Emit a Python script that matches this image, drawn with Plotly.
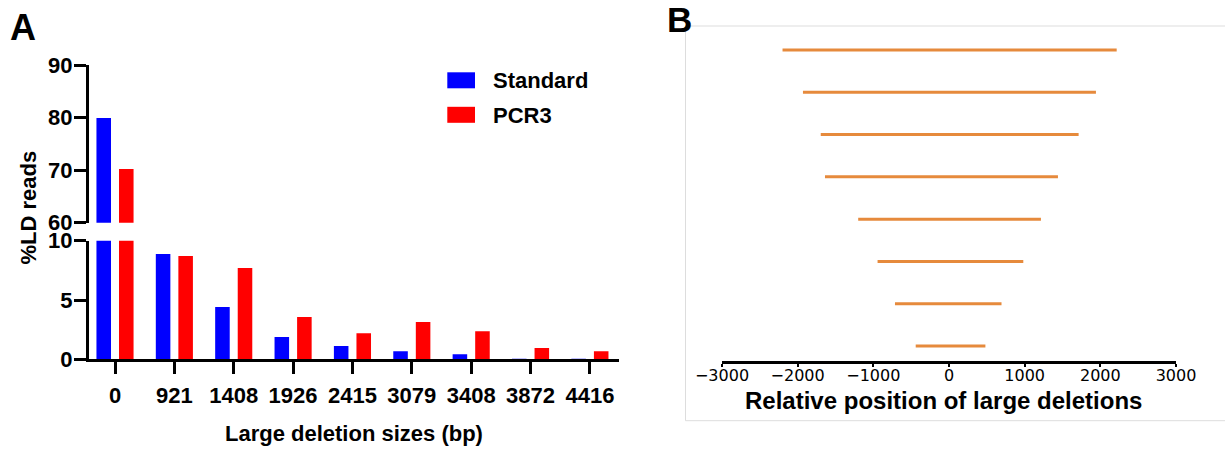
import plotly.graph_objects as go

# ---------------- data ----------------
size_labels = ["0", "921", "1408", "1926", "2415", "3079", "3408", "3872", "4416"]
standard_pct = [79.9, 8.88, 4.41, 1.88, 1.12, 0.68, 0.42, 0.05, 0.02]
pcr3_pct = [70.2, 8.71, 7.70, 3.57, 2.19, 3.14, 2.37, 0.96, 0.68]
series_names = ["Standard", "PCR3"]

del_sizes = ["921", "1408", "1926", "2415", "3079", "3408", "3872", "4416"]
del_start = [-440, -714, -944, -1200, -1639, -1695, -1930, -2200]
del_end = [481, 694, 982, 1215, 1440, 1713, 1942, 2216]

W, H = 1225, 449
BLUE, RED, ORANGE = "#0000ff", "#ff0000", "#e68a3c"
ARIAL = "Liberation Sans"


def px(x):
    return x / W


def py(y):
    return 1 - y / H


fig = go.Figure()

# Panel A: broken axis -> lower (0-10) and upper (60-90) segments
for yax in ("y", "y2"):
    for name, vals, col in zip(series_names, [standard_pct, pcr3_pct], [BLUE, RED]):
        fig.add_trace(go.Bar(x=size_labels, y=vals, name=name,
                             marker=dict(color=col, line=dict(width=0)),
                             xaxis="x", yaxis=yax, showlegend=False))

# Panel B: deletion spans
xs, ys = [], []
for s, a, b in zip(del_sizes, del_start, del_end):
    xs += [a, b, None]
    ys += [s, s, None]
fig.add_trace(go.Scatter(x=xs, y=ys, mode="lines",
                         line=dict(color=ORANGE, width=3),
                         xaxis="x3", yaxis="y3", showlegend=False))

axis_common = dict(showline=True, linecolor="black", linewidth=3,
                   ticks="outside", tickcolor="black", tickwidth=3, ticklen=12,
                   showgrid=False, zeroline=False, fixedrange=True,
                   automargin=False,
                   tickfont=dict(family=ARIAL, size=22, color="black", weight="bold"))

# legend drawn as swatches + labels (matches the wide rectangular keys)
legend_shapes, legend_ann = [], []
for i, (name, col) in enumerate(zip(series_names, [BLUE, RED])):
    top = 72.3 + i * 34.5
    legend_shapes.append(dict(type="rect", xref="paper", yref="paper",
                              x0=px(447.3), x1=px(475), y0=py(top + 16), y1=py(top),
                              fillcolor=col, line=dict(width=0)))
    legend_ann.append(dict(text=name, x=px(490.5), y=py(top + 8.2),
                           xref="paper", yref="paper", showarrow=False,
                           xanchor="left", yanchor="middle",
                           font=dict(family=ARIAL, size=22, weight="bold")))

fig.update_layout(
    width=W, height=H,
    margin=dict(l=0, r=0, t=0, b=0, pad=0),
    paper_bgcolor="white", plot_bgcolor="white",
    barmode="group", bargap=0.24, bargroupgap=0.355,
    showlegend=False,
    font=dict(family=ARIAL, color="black"),
    xaxis=dict(domain=[px(89), px(619)], type="category",
               range=[-0.438, 8.49], anchor="y",
               ticklabelstandoff=2, **axis_common),
    yaxis=dict(domain=[py(359.3), py(240.7)], range=[0, 10],
               tickvals=[0, 5, 10], anchor="x", ticklabelstandoff=-3,
               **axis_common),
    yaxis2=dict(domain=[py(222.7), py(65)], range=[60, 90],
                tickvals=[60, 70, 80, 90], anchor="x", ticklabelstandoff=-3,
                **axis_common),
    xaxis3=dict(domain=[px(722), px(1176)], range=[-3000, 3000],
                anchor="y3", showline=True, linecolor="black", linewidth=2.5,
                ticks="outside", ticklen=3, tickwidth=2, tickcolor="black",
                dtick=1000, tick0=0, showgrid=False, zeroline=False,
                tickfont=dict(family="DejaVu Sans", size=16, color="black"),
                ticklabelstandoff=-5, fixedrange=True, automargin=False),
    xaxis4=dict(overlaying="x3", matches="x3", anchor="y3",
                ticks="inside", ticklen=3, tickwidth=2, tickcolor="black",
                dtick=1000, tick0=0, showticklabels=False, showline=False,
                showgrid=False, zeroline=False, automargin=False),
    yaxis3=dict(domain=[py(361), py(26)], type="category",
                categoryorder="array", categoryarray=del_sizes,
                range=[-0.355, 7.567], visible=False, anchor="x3",
                fixedrange=True, automargin=False),
    shapes=[dict(type="rect", xref="paper", yref="paper",
                 x0=px(685.5), x1=1.01, y0=py(420.7), y1=py(26),
                 line=dict(color="#dddddd", width=1), layer="below")] + legend_shapes,
    annotations=[
        dict(text="A", x=px(23), y=py(27), xref="paper", yref="paper",
             showarrow=False, xanchor="center", yanchor="middle",
             font=dict(family=ARIAL, size=36, weight="bold")),
        dict(text="B", x=px(679.5), y=py(20), xref="paper", yref="paper",
             showarrow=False, xanchor="center", yanchor="middle",
             font=dict(family=ARIAL, size=35, weight="bold")),
        dict(text="%LD reads", x=px(27.5), y=py(208), xref="paper", yref="paper",
             showarrow=False, xanchor="center", yanchor="middle", textangle=-90,
             font=dict(family=ARIAL, size=22, weight="bold")),
        dict(text="Large deletion sizes (bp)", x=px(354), y=py(433),
             xref="paper", yref="paper", showarrow=False,
             xanchor="center", yanchor="middle",
             font=dict(family=ARIAL, size=22, weight="bold")),
        dict(text="Relative position of large deletions", x=px(943), y=py(400),
             xref="paper", yref="paper", showarrow=False,
             xanchor="center", yanchor="middle",
             font=dict(family=ARIAL, size=24, weight="bold")),
    ] + legend_ann,
)

fig.write_html("out.html")
